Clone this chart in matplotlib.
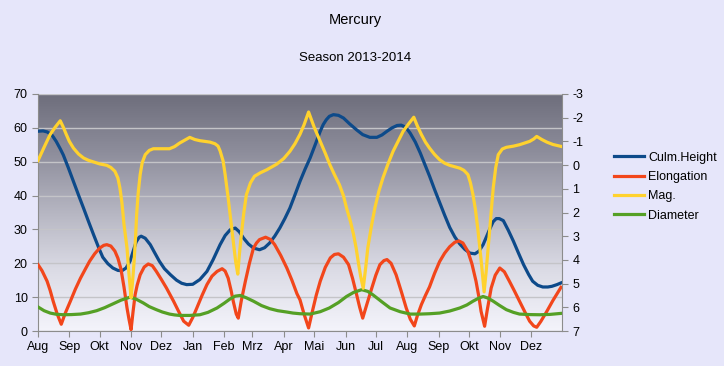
import matplotlib

matplotlib.use("Agg")
import matplotlib.pyplot as plt  # noqa: E402
import numpy as np  # noqa: E402
from matplotlib.colors import LinearSegmentedColormap  # noqa: E402

plt.rcParams.update({
    "font.family": ["Liberation Sans", "DejaVu Sans"],
    "axes.unicode_minus": False,
})

# x = days since 2013-08-01
MONTH_DAYS = [0, 31, 61, 92, 122, 153, 184, 212, 243, 273, 304, 334,
              365, 396, 426, 457, 487]
MONTH_LABELS = ["Aug", "Sep", "Okt", "Nov", "Dez", "Jan", "Feb", "Mrz", "Apr",
                "Mai", "Jun", "Jul", "Aug", "Sep", "Okt", "Nov", "Dez"]

culm_days = [0, 5, 9, 14, 18, 22, 25, 30, 35, 40, 45, 50, 55, 60, 64, 69, 74,
             79, 83, 87, 91, 94, 97, 100, 102, 106, 111, 115, 120, 125, 131,
             137, 142, 147, 153, 160, 167, 173, 180, 185, 190, 195, 199, 203,
             208, 213, 219, 224, 229, 234, 239, 244, 249, 254, 259, 264, 269,
             274, 279, 282, 285, 288, 292, 297, 302, 308, 315, 321, 328, 335,
             340, 345, 350, 355, 359, 362, 365, 368, 373, 378, 382, 387, 392,
             397, 402, 407, 412, 417, 422, 427, 432, 436, 440, 444, 447, 450,
             453, 456, 460, 465, 470, 475, 480, 485, 489, 494, 499, 504, 508,
             513, 517]
culm_vals = [59.0, 59.1, 58.8, 57.8, 56.0, 53.8, 52.0, 48.2, 44.2, 40.2, 36.3,
             32.3, 28.4, 24.6, 21.8, 19.9, 18.6, 17.9, 17.8, 18.6, 20.6, 23.5,
             26.3, 27.7, 28.0, 27.4, 25.5, 23.3, 20.6, 18.4, 16.6, 15.0, 14.1,
             13.7, 13.8, 15.2, 17.6, 21.0, 25.5, 28.2, 29.9, 30.4, 29.3, 27.5,
             25.7, 24.5, 24.0, 24.6, 26.0, 28.0, 30.4, 33.2, 36.3, 40.2, 44.2,
             47.8, 51.1, 55.0, 59.0, 61.0, 62.4, 63.4, 63.9, 63.7, 62.9, 61.2,
             59.4, 58.0, 57.2, 57.2, 57.9, 59.0, 60.0, 60.7, 60.8, 60.4, 59.6,
             58.4, 55.8, 52.5, 49.5, 45.8, 41.8, 38.0, 34.2, 30.6, 27.8, 25.7,
             24.1, 23.0, 22.8, 23.6, 25.5, 28.3, 30.4, 32.3, 33.2, 33.2, 32.6,
             29.7, 26.5, 23.0, 19.6, 16.7, 14.7, 13.5, 13.0, 13.0, 13.2, 13.7,
             14.2]

elong_days = [0, 4, 9, 12, 15, 19, 23, 27, 32, 37, 42, 47, 51, 56, 61, 65, 68,
              72, 76, 79, 82, 85, 88, 90, 92, 94, 96, 98, 101, 105, 109, 113,
              117, 122, 127, 134, 139, 144, 149, 153, 157, 162, 167, 172, 177,
              182, 185, 188, 191, 193, 196, 198, 201, 205, 209, 213, 216, 219,
              225, 230, 234, 240, 246, 251, 256, 259, 263, 267.5, 271, 275,
              279, 284, 289, 293, 297, 302, 307, 311, 315, 318, 321, 325, 330,
              334, 338, 342, 345, 349, 354, 359, 364, 368, 372, 375, 379, 383,
              387, 392, 397, 402, 407, 412, 416, 420, 425, 429, 433, 436, 438,
              441.5, 444, 448, 452, 456.5, 461, 466, 471, 476, 481, 486, 490,
              493, 497, 503, 509, 517]
elong_vals = [19.6, 17.8, 14.7, 12.0, 8.8, 5.0, 2.0, 5.3, 8.8, 12.4, 15.6,
              18.4, 20.6, 22.8, 24.5, 25.3, 25.5, 25.1, 23.6, 21.5, 18.3, 13.0,
              6.8, 3.4, 0.4, 5.8, 10.7, 13.5, 16.6, 18.9, 19.8, 19.3, 17.6,
              15.2, 12.7, 8.8, 5.8, 2.9, 1.7, 4.0, 6.8, 10.4, 13.7, 16.2, 17.6,
              18.4, 17.7, 15.6, 11.8, 8.8, 5.0, 3.8, 9.0, 14.7, 20.0, 24.5,
              26.0, 27.0, 27.7, 27.0, 25.5, 22.3, 18.6, 15.0, 11.0, 9.2, 5.0,
              0.9, 5.5, 10.5, 14.7, 18.8, 21.6, 22.6, 22.8, 21.8, 19.6, 15.5,
              10.7, 7.0, 3.8, 7.8, 12.7, 16.5, 19.6, 20.8, 21.1, 20.0, 16.6,
              11.8, 6.8, 3.5, 1.5, 4.5, 7.8, 10.5, 13.0, 17.0, 20.5, 23.0, 24.9,
              26.2, 26.6, 26.0, 23.5, 19.8, 14.7, 9.8, 5.8, 1.4, 6.0, 12.7,
              16.5, 18.6, 17.5, 14.7, 11.8, 8.8, 5.8, 2.9, 1.5, 1.1, 2.8, 5.8,
              9.0, 12.9]

mag_days = [0, 6, 12, 17, 22, 25, 28, 31, 35, 40, 45, 50, 55, 61, 68, 72, 76,
            79, 81, 83, 85, 88, 90, 92, 93.5, 95, 96.5, 97.5, 99, 101, 103, 106,
            110, 114, 122, 130, 135, 140, 145, 150, 155, 160, 165, 170, 175,
            178, 180, 183, 185, 188, 191, 193, 195.5, 197.5, 199, 201, 203.5,
            206, 210, 214, 220, 226, 231, 236, 243, 249, 254, 259, 263, 267.5,
            273, 279, 284, 288.5, 293, 298, 302, 305, 309, 312, 314.5, 316.5,
            319, 321.5, 324, 326, 329.5, 333, 337, 341, 346, 351, 356, 361,
            366, 371.5, 375, 379, 383, 387, 392, 397, 402, 407, 412, 417, 421,
            425, 427.5, 430, 432.5, 435, 437, 438.5, 440, 441, 443, 445, 447.5,
            450, 452.5, 455, 459, 463, 470, 476, 481, 486, 490, 493, 498, 503,
            509, 517]
mag_vals = [-0.19, -0.75, -1.29, -1.6, -1.87, -1.6, -1.29, -1.0, -0.72, -0.47,
            -0.30, -0.2, -0.13, -0.05, 0.01, 0.1, 0.26, 0.55, 0.97, 1.6, 2.5,
            3.5, 4.63, 5.6, 4.9, 4.06, 3.0, 2.10, 1.2, 0.40, -0.1, -0.44, -0.62,
            -0.69, -0.69, -0.69, -0.78, -0.93, -1.05, -1.17, -1.08, -1.03,
            -1.0, -0.97, -0.9, -0.8, -0.6, -0.17, 0.4, 1.39, 2.5, 3.21, 4.1,
            4.6, 3.8, 2.94, 2.0, 1.25, 0.75, 0.47, 0.32, 0.2, 0.08, -0.04,
            -0.28, -0.58, -0.9, -1.30, -1.7, -2.24, -1.6, -1.0, -0.5, -0.02,
            0.4, 0.83, 1.3, 1.81, 2.4, 2.94, 3.5, 4.06, 4.7, 5.2, 4.3, 3.5,
            2.6, 1.81, 1.1, 0.54, -0.05, -0.58, -1.0, -1.43, -1.72, -2.02,
            -1.65, -1.29, -0.97, -0.72, -0.45, -0.23, -0.08, 0.01, 0.07, 0.13,
            0.22, 0.40, 0.75, 1.25, 1.9, 2.78, 3.6, 4.2, 4.9, 5.35, 4.5, 3.5,
            2.2, 0.97, 0.1, -0.44, -0.68, -0.75, -0.8, -0.86, -0.93, -1.0,
            -1.1, -1.21, -1.08, -0.97, -0.87, -0.79]

diam_days = [0, 6, 12, 18, 25, 33, 42, 50, 58, 66, 74, 82, 91, 97, 104, 110,
             117, 123, 130, 135, 140, 150, 160, 168, 177, 184, 190, 195, 200,
             206, 213, 221, 229, 237, 246, 252, 259, 269, 279, 288, 297, 305,
             312, 320, 326, 331, 340, 348, 358, 368, 378, 387, 397, 407, 417,
             424, 430, 435, 440, 445, 450, 456, 463, 470, 476, 486, 496, 506,
             517]
diam_vals = [7.1, 6.0, 5.3, 4.95, 4.8, 4.85, 5.0, 5.4, 6.0, 6.9, 8.0, 9.1, 10.0,
             9.4, 8.3, 7.2, 6.3, 5.6, 5.0, 4.75, 4.6, 4.6, 4.8, 5.5, 6.8, 8.2,
             9.5, 10.3, 10.5, 9.8, 8.8, 7.5, 6.6, 6.0, 5.6, 5.3, 5.1, 5.0, 5.7,
             6.8, 8.4, 10.2, 11.4, 12.2, 11.7, 10.7, 8.6, 6.8, 5.7, 5.0, 5.0,
             5.1, 5.3, 5.9, 6.8, 7.7, 8.8, 9.6, 10.2, 9.7, 8.8, 7.6, 6.3, 5.5,
             5.0, 4.85, 4.8, 4.9, 5.2]

BG = "#E6E6FA"
C_BLUE = "#0D4A8A"
C_RED = "#F2461B"
C_YELLOW = "#FFD22E"
C_GREEN = "#55A025"
AX_GRAY = "#8C8C8C"

fig = plt.figure(figsize=(7.24, 3.66), dpi=100, facecolor=BG)
ax = fig.add_axes([38 / 724, 1 - 331 / 366, 524 / 724, 237 / 366])
ax.set_facecolor(BG)

# vertical gradient of the plot area
grad_cmap = LinearSegmentedColormap.from_list(
    "plotbg", ["#F4F4FB", "#DCDCE6", "#B6B6C2", "#8E8E9C", "#6E6E7C"])
grad = np.linspace(0, 1, 256).reshape(-1, 1)
ax.imshow(grad, extent=[0, 1, 0, 1], transform=ax.transAxes, origin="lower",
          aspect="auto", cmap=grad_cmap, zorder=0)

lw = 2.3
ax.plot(culm_days, culm_vals, color=C_BLUE, lw=lw, label="Culm.Height",
        solid_joinstyle="round", zorder=3)
ax.plot(elong_days, elong_vals, color=C_RED, lw=lw, label="Elongation",
        solid_joinstyle="round", zorder=3)
ax.plot(diam_days, diam_vals, color=C_GREEN, lw=lw, label="Diameter",
        solid_joinstyle="round", zorder=4)

ax.set_xlim(0, 518)
ax.set_ylim(0, 70)
ax.set_yticks(np.arange(0, 71, 10))
ax.set_xticks(MONTH_DAYS)
ax.set_xticklabels(MONTH_LABELS)
ax.grid(axis="y", color="#C4C4C8", linewidth=1.0)
ax.tick_params(axis="both", colors=AX_GRAY, labelcolor="black", labelsize=9,
               length=4, width=0.8, direction="out")
for side in ("top", "right"):
    ax.spines[side].set_visible(False)
for side in ("left", "bottom"):
    ax.spines[side].set_color(AX_GRAY)

ax2 = ax.twinx()
ax2.plot(mag_days, mag_vals, color=C_YELLOW, lw=lw, label="Mag.",
         solid_joinstyle="round", zorder=3)
ax2.set_ylim(7, -3)
ax2.set_yticks(np.arange(-3, 8, 1))
ax2.tick_params(axis="y", colors=AX_GRAY, labelcolor="black", labelsize=9,
                length=4, width=0.8, direction="out")
for side in ("top", "left", "bottom"):
    ax2.spines[side].set_visible(False)
ax2.spines["right"].set_color(AX_GRAY)

h1, l1 = ax.get_legend_handles_labels()
h2, l2 = ax2.get_legend_handles_labels()
handles = [h1[0], h1[1], h2[0], h1[2]]
labels = [l1[0], l1[1], l2[0], l1[2]]
fig.legend(handles, labels, loc="center left", bbox_to_anchor=(0.833, 0.49),
           frameon=False, fontsize=9, handlelength=2.4, handletextpad=0.3,
           labelspacing=0.58)

fig.text(355 / 724, 1 - 20 / 366, "Mercury", ha="center", va="center",
         fontsize=10.5)
fig.text(355 / 724, 1 - 58 / 366, "Season 2013-2014", ha="center",
         va="center", fontsize=9.5)

fig.savefig("out.png", dpi=100, facecolor=BG)
